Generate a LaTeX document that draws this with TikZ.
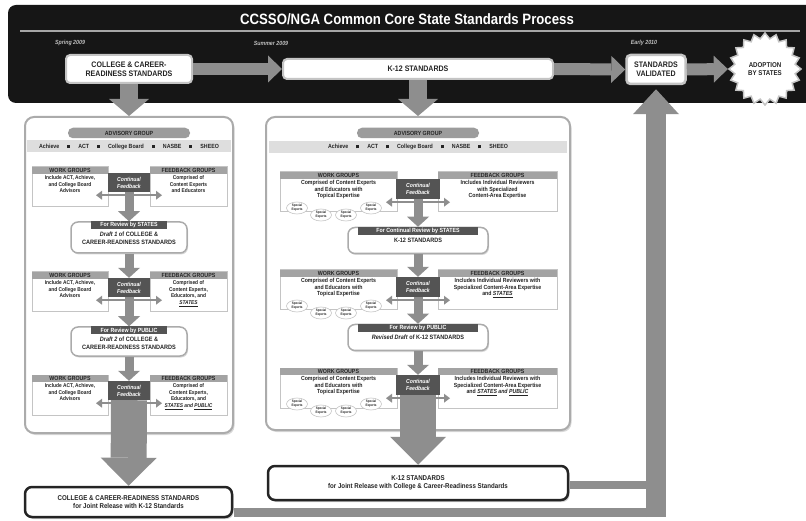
\documentclass[tikz,border=0pt]{standalone}
\usepackage{fontspec}
\setmainfont[FakeStretch=0.88]{Liberation Sans}
\usepackage{xcolor}
\usetikzlibrary{arrows.meta}
\usetikzlibrary{shapes}
\usetikzlibrary{shadows}
\usetikzlibrary{positioning}

\definecolor{bannerblack}{HTML}{161616}
\definecolor{arrowgray}{HTML}{8E8E8E}
\definecolor{panelline}{HTML}{ABABAB}
\definecolor{pillgray}{HTML}{9C9C9C}
\definecolor{bandgray}{HTML}{DEDEDE}
\definecolor{hdrgray}{HTML}{A3A3A3}
\definecolor{boxline}{HTML}{C4C4C4}
\definecolor{darkbox}{HTML}{545454}
\definecolor{textdark}{HTML}{242424}

\newcommand\fsz[2]{\fontsize{#1}{#2}\selectfont}
\newcommand\mbsep{\hspace{8pt}\rule[0.2pt]{3pt}{3pt}\hspace{8pt}}
\newcommand\members{Achieve\mbsep ACT\mbsep College Board\mbsep NASBE\mbsep SHEEO}

\tikzset{
  banbox/.style={draw=boxline, line width=2pt, fill=white, rounded corners=4pt, align=center, font=\fsz{8}{9}\bfseries},
  datelbl/.style={text=white!75!black, font=\fsz{6}{7}\bfseries\itshape},
  flowarrow/.style={draw=arrowgray, line width=12pt, -{Triangle[length=14pt,width=27pt,line width=0pt]}},
  downarrow/.style={draw=arrowgray, line width=18pt, -{Triangle[length=17pt,width=40pt,line width=0pt]}},
  smallarrow/.style={draw=arrowgray, line width=9pt, -{Triangle[length=10pt,width=22pt,line width=0pt]}},
  bigarrow/.style={draw=arrowgray, line width=36pt, -{Triangle[length=28pt,width=56pt,line width=0pt]}},
  sidearrow/.style={draw=arrowgray, line width=2.5pt, -{Triangle[length=6pt,width=9pt,line width=0pt]}},
  uparrow/.style={draw=arrowgray, line width=20pt, -{Triangle[length=25pt,width=46pt,line width=0pt]}},
  band/.style={draw=arrowgray, line width=9pt},
  panel/.style={draw=panelline, line width=2pt, fill=white, rounded corners=9pt,
    drop shadow={opacity=0.3, shadow xshift=1.5pt, shadow yshift=-2pt}},
  pill/.style={fill=pillgray, rounded corners=5pt, minimum width=122pt, minimum height=10.5pt, font=\fsz{6}{6}\bfseries},
  memberband/.style={fill=bandgray, minimum height=12pt, font=\fsz{6}{6}\bfseries},
  grpbox/.style={draw=boxline, line width=1pt, fill=white, minimum height=40pt},
  grphdr/.style={fill=hdrgray, minimum height=7pt, font=\fsz{6}{6}\bfseries},
  grptxt/.style={align=center, font=\fsz{5.5}{6.6}\bfseries},
  contbox/.style={fill=darkbox, text=white, align=center, font=\fsz{5.8}{7}\bfseries\itshape},
  revbox/.style={draw=panelline, line width=1.5pt, fill=white, rounded corners=7pt,
    drop shadow={opacity=0.3, shadow xshift=1pt, shadow yshift=-1.5pt}},
  revhdr/.style={fill=darkbox, text=white, minimum height=8pt, font=\fsz{6}{6}\bfseries},
  revtxt/.style={align=center, font=\fsz{6.3}{8}\bfseries},
  jointbox/.style={draw=textdark, line width=2.5pt, fill=white, rounded corners=7pt, align=center,
    font=\fsz{7}{8.5}\bfseries, drop shadow={opacity=0.35, shadow xshift=1.5pt, shadow yshift=-2pt}},
  expert/.style={ellipse, draw=boxline, line width=0.6pt, fill=white, minimum width=21pt, minimum height=12pt,
    align=center, font=\fsz{3.4}{3.8}\bfseries}
}

\begin{document}
\begin{tikzpicture}[x=1pt, y=-1pt, every node/.style={inner sep=0pt, text=textdark}]

    \fill[white] (0,0) rectangle (806,521);
    \useasboundingbox (0,0) rectangle (806,521);

    %===========================
    % Banner
    %===========================

    \fill[bannerblack, rounded corners=8pt] (8,5) rectangle (815,103);
    \node (title) at (407,19) [text=white, font=\fsz{15}{16}\bfseries] {CCSSO/NGA Common Core State Standards Process};
    \draw[gray!70, line width=1.5pt] (20,31) -- (800,31);

    \node (spring) at (70,43) [datelbl] {Spring 2009};
    \node (summer) at (271,43) [datelbl] {Summer 2009};
    \node (early) at (644,43) [datelbl] {Early 2010};
    \node (ongoing) at (775,43) [datelbl] {Ongoing};

    \node (crB) at (129,69) [banbox, minimum width=126pt, minimum height=28pt] {COLLEGE \& CAREER-\\READINESS STANDARDS};
    \node (k12B) at (418,69) [banbox, minimum width=270pt, minimum height=20pt] {K-12 STANDARDS};
    \node (valB) at (656,69.5) [banbox, line width=2.5pt, minimum width=59pt, minimum height=29pt] {STANDARDS\\VALIDATED};
    \node (adopt) at (765,69) [star, star points=20, star point ratio=1.18, minimum size=72pt, draw=boxline,
        line width=1.5pt, fill=white, align=center, font=\fsz{7}{8}\bfseries] {ADOPTION\\BY STATES};

    \draw[flowarrow] (crB.east) -- (k12B.west);
    \draw[flowarrow] (k12B.east) -- (valB.west);
    \draw[flowarrow] (valB.east) -- (adopt.west);

    %===========================
    % Panels
    %===========================

    \node (lpanel) at (129,275) [panel, minimum width=208pt, minimum height=316pt] {};
    \node (cpanel) at (418,273.5) [panel, minimum width=304pt, minimum height=313pt] {};

    \node (advL) at (129,133) [pill] {ADVISORY GROUP};
    \node (memL) at (129,146.5) [memberband, minimum width=204pt] {\members};
    \node (advC) at (418,133) [pill] {ADVISORY GROUP};
    \node (memC) at (418,147) [memberband, minimum width=298pt] {\members};

    % Left Side
    \foreach \r/\y/\fb in {1/167/{Comprised of\\Content Experts\\and Educators},
                           2/272/{Comprised of\\Content Experts,\\Educators, and\\\textit{\underline{STATES}}},
                           3/375/{Comprised of\\Content Experts,\\Educators, and\\\textit{\underline{STATES} and \underline{PUBLIC}}}}{
      \node (wkL\r) at (70,\y+20) [grpbox, minimum width=76pt] {};
      \node (wkLh\r) at (wkL\r.north) [grphdr, anchor=north, minimum width=76pt] {WORK GROUPS};
      \node (wkLt\r) [below=1.5pt of wkLh\r, grptxt] {Include ACT, Achieve,\\and College Board\\Advisors};
      \node (fbL\r) at (188.5,\y+20) [grpbox, minimum width=77pt] {};
      \node (fbLh\r) at (fbL\r.north) [grphdr, anchor=north, minimum width=77pt] {FEEDBACK GROUPS};
      \node (fbLt\r) [below=1.5pt of fbLh\r, grptxt] {\fb};
      \node (cfL\r) at (129,\y+15.5) [contbox, minimum width=42pt, minimum height=19pt] {Continual\\Feedback};
      \draw[sidearrow] ([yshift=-3pt]cfL\r.south) -- +(-33,0);
      \draw[sidearrow] ([yshift=-3pt]cfL\r.south) -- +(33,0);
    }

    \node (drL1) at (129,237.5) [revbox, minimum width=116pt, minimum height=31pt] {};
    \node (drLh1) at (drL1.north) [revhdr, anchor=north, minimum width=76pt] {For Review by STATES};
    \node (drLt1) [below=2pt of drLh1, revtxt] {\textit{Draft 1} of COLLEGE \&\\CAREER-READINESS STANDARDS};

    \node (drL2) at (129,341.5) [revbox, minimum width=116pt, minimum height=29pt] {};
    \node (drLh2) at (drL2.north) [revhdr, anchor=north, minimum width=76pt] {For Review by PUBLIC};
    \node (drLt2) [below=2pt of drLh2, revtxt] {\textit{Draft 2} of COLLEGE \&\\CAREER-READINESS STANDARDS};

    % Center
    \foreach \r/\y/\fb in {1/172/{Includes Individual Reviewers\\with Specialized\\Content-Area Expertise},
                           2/270/{Includes Individual Reviewers with\\Specialized Content-Area Expertise\\and \textit{\underline{STATES}}},
                           3/368/{Includes Individual Reviewers with\\Specialized Content-Area Expertise\\and \textit{\underline{STATES} and \underline{PUBLIC}}}}{
      \node (wkC\r) at (338.5,\y+20) [grpbox, minimum width=117pt] {};
      \node (wkCh\r) at (wkC\r.north) [grphdr, anchor=north, minimum width=117pt] {WORK GROUPS};
      \node (wkCt\r) [below=1.5pt of wkCh\r, grptxt, font=\fsz{5.9}{6.5}\bfseries] {Comprised of Content Experts\\and Educators with\\Topical Expertise};
      \node (seA\r) at (297,\y+36) [expert] {Special\\Experts};
      \node (seB\r) at (321,\y+43) [expert] {Special\\Experts};
      \node (seC\r) at (346,\y+43) [expert] {Special\\Experts};
      \node (seD\r) at (371,\y+36) [expert] {Special\\Experts};
      \node (fbC\r) at (497.5,\y+20) [grpbox, minimum width=119pt] {};
      \node (fbCh\r) at (fbC\r.north) [grphdr, anchor=north, minimum width=119pt] {FEEDBACK GROUPS};
      \node (fbCt\r) [below=1.5pt of fbCh\r, grptxt, font=\fsz{5.9}{6.5}\bfseries] {\fb};
      \node (cfC\r) at (418,\y+17) [contbox, minimum width=44pt, minimum height=20pt] {Continual\\Feedback};
      \draw[sidearrow] ([yshift=-3pt]cfC\r.south) -- +(-32,0);
      \draw[sidearrow] ([yshift=-3pt]cfC\r.south) -- +(32,0);
    }

    \node (rvC1) at (418,240.5) [revbox, minimum width=140pt, minimum height=26pt] {};
    \node (rvCh1) at (rvC1.north) [revhdr, anchor=north, minimum width=120pt] {For Continual Review by STATES};
    \node (rvCt1) [below=2.5pt of rvCh1, revtxt] {K-12 STANDARDS};

    \node (rvC2) at (418,337.5) [revbox, minimum width=140pt, minimum height=26pt] {};
    \node (rvCh2) at (rvC2.north) [revhdr, anchor=north, minimum width=120pt] {For Review by PUBLIC};
    \node (rvCt2) [below=2.5pt of rvCh2, revtxt] {\textit{Revised Draft} of K-12 STANDARDS};

    %===========================
    % Flow
    %===========================

    \draw[downarrow] (crB.south) -- (lpanel.north);
    \draw[downarrow] (k12B.south) -- (cpanel.north);

    \draw[smallarrow] (cfL1.south) -- (drL1.north);
    \draw[smallarrow] (drL1.south) -- (cfL2.north);
    \draw[smallarrow] (cfL2.south) -- (drL2.north);
    \draw[smallarrow] (drL2.south) -- (cfL3.north);

    \draw[smallarrow] (cfC1.south) -- (rvC1.north);
    \draw[smallarrow] (rvC1.south) -- (cfC2.north);
    \draw[smallarrow] (cfC2.south) -- (rvC2.north);
    \draw[smallarrow] (rvC2.south) -- (cfC3.north);

    %===========================
    % Joint release
    %===========================

    \coordinate (turnB) at (656,512);
    \coordinate (turnC) at (656,485);

    \node (jtL) at (128.5,502) [jointbox, minimum width=207pt, minimum height=30pt] {COLLEGE \& CAREER-READINESS STANDARDS\\for Joint Release with K-12 Standards};
    \node (jtC) at (418,483) [jointbox, minimum width=300pt, minimum height=34pt] {K-12 STANDARDS\\for Joint Release with College \& Career-Readiness Standards};

    \draw[bigarrow] (cfL3.south) -- (jtL.north);
    \draw[bigarrow] (cfC3.south) -- (jtC.north);

    \draw[band] ([xshift=1pt]jtL.east |- turnB) -- (turnB);
    \draw[band, line width=8pt] ([xshift=1pt]jtC.east |- turnC) -- (turnC);
    \draw[uparrow, shorten >=4pt] ([yshift=-5pt]turnB) -- (valB.south);

\end{tikzpicture}
\end{document}
